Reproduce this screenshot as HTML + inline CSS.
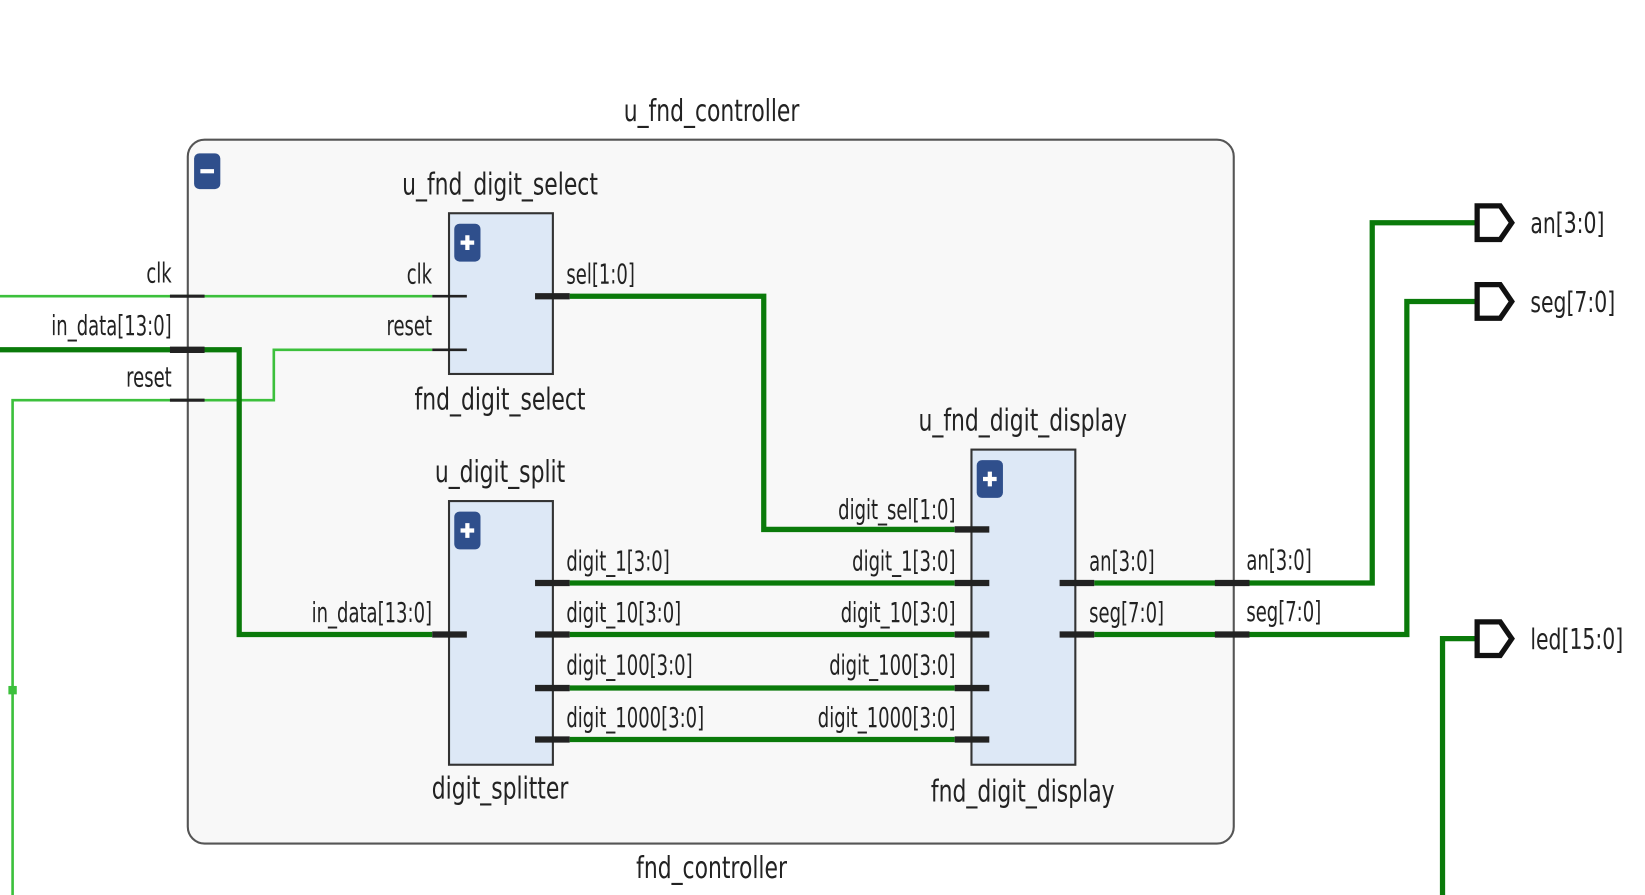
<!DOCTYPE html>
<html><head><style>
html,body{margin:0;padding:0;background:#fff;width:1645px;height:895px;overflow:hidden}
svg{display:block}
text{font-family:"DejaVu Sans","Liberation Sans",sans-serif;font-size:26px;fill:#222}
.t text{font-size:29px}
.p text{font-size:27px}
</style></head><body>
<svg width="1645" height="895" viewBox="0 0 1568 852" preserveAspectRatio="none">
<rect x="179" y="133" width="997" height="670" rx="16" fill="#f8f8f8" stroke="#555" stroke-width="2"/>
<rect x="185" y="146" width="25" height="34" rx="5" fill="#2f4f8c"/>
<rect x="191" y="161" width="13" height="4" fill="#fff"/>

<g stroke="#3cc03c" stroke-width="2.5" fill="none">
<polyline points="0,282 412,282"/>
<polyline points="12,852 12,381 261,381 261,333 412,333"/>
</g>
<rect x="8" y="653" width="8" height="8" fill="#3cc03c"/>

<g stroke="#0a7a0a" stroke-width="5" fill="none">
<polyline points="0,333 228,333 228,604 412,604"/>
<polyline points="543,282 728,282 728,504 910,504"/>
<line x1="543" y1="555" x2="910" y2="555"/>
<line x1="543" y1="604" x2="910" y2="604"/>
<line x1="543" y1="655" x2="910" y2="655"/>
<line x1="543" y1="704" x2="910" y2="704"/>
<polyline points="1043,555 1308,555 1308,212 1408,212"/>
<polyline points="1043,604 1341,604 1341,287 1408,287"/>
<polyline points="1375,852 1375,608 1408,608"/>
</g>

<g stroke="#222" fill="none">
<line x1="162" y1="282" x2="195" y2="282" stroke-width="3"/>
<line x1="162" y1="333" x2="195" y2="333" stroke-width="6"/>
<line x1="162" y1="381" x2="195" y2="381" stroke-width="3"/>
<line x1="1158" y1="555" x2="1191" y2="555" stroke-width="6"/>
<line x1="1158" y1="604" x2="1191" y2="604" stroke-width="6"/>
</g>

<rect x="428" y="203" width="99" height="153" fill="#dde8f6" stroke="#333" stroke-width="2"/>
<rect x="433" y="213" width="25" height="36" rx="5" fill="#2f4f8c"/>
<path d="M439 231h13M445.5 224v14" stroke="#fff" stroke-width="4"/>
<g stroke="#222">
<line x1="412" y1="282" x2="445" y2="282" stroke-width="2.5"/>
<line x1="412" y1="333" x2="445" y2="333" stroke-width="2.5"/>
<line x1="510" y1="282" x2="543" y2="282" stroke-width="6"/>
</g>

<rect x="428" y="477" width="99" height="251" fill="#dde8f6" stroke="#333" stroke-width="2"/>
<rect x="433" y="487" width="25" height="36" rx="5" fill="#2f4f8c"/>
<path d="M439 505h13M445.5 498v14" stroke="#fff" stroke-width="4"/>
<g stroke="#222" stroke-width="6">
<line x1="412" y1="604" x2="445" y2="604"/>
<line x1="510" y1="555" x2="543" y2="555"/>
<line x1="510" y1="604" x2="543" y2="604"/>
<line x1="510" y1="655" x2="543" y2="655"/>
<line x1="510" y1="704" x2="543" y2="704"/>
</g>

<rect x="926" y="428" width="99" height="300" fill="#dde8f6" stroke="#333" stroke-width="2"/>
<rect x="931" y="438" width="25" height="36" rx="5" fill="#2f4f8c"/>
<path d="M937 456h13M943.5 449v14" stroke="#fff" stroke-width="4"/>
<g stroke="#222" stroke-width="6">
<line x1="910" y1="504" x2="943" y2="504"/>
<line x1="910" y1="555" x2="943" y2="555"/>
<line x1="910" y1="604" x2="943" y2="604"/>
<line x1="910" y1="655" x2="943" y2="655"/>
<line x1="910" y1="704" x2="943" y2="704"/>
<line x1="1010" y1="555" x2="1043" y2="555"/>
<line x1="1010" y1="604" x2="1043" y2="604"/>
</g>

<g fill="#fff" stroke="#111" stroke-width="5" stroke-linejoin="miter">
<polygon points="1408,196 1430,196 1441,212 1430,228 1408,228"/>
<polygon points="1408,271 1430,271 1441,287 1430,303 1408,303"/>
<polygon points="1408,592 1430,592 1441,608 1430,624 1408,624"/>
</g>

<g transform="scale(0.66 1)">
<text x="248" y="269" text-anchor="end">clk</text>
<text x="248" y="319" text-anchor="end">in_data[13:0]</text>
<text x="248" y="368" text-anchor="end">reset</text>
<text x="1800" y="542">an[3:0]</text>
<text x="1800" y="591">seg[7:0]</text>
<text x="624" y="270" text-anchor="end">clk</text>
<text x="624" y="319" text-anchor="end">reset</text>
<text x="818" y="270">sel[1:0]</text>
<text x="624" y="592" text-anchor="end">in_data[13:0]</text>
<text x="818" y="543">digit_1[3:0]</text>
<text x="818" y="592">digit_10[3:0]</text>
<text x="818" y="642">digit_100[3:0]</text>
<text x="818" y="692">digit_1000[3:0]</text>
<text x="1380" y="494" text-anchor="end">digit_sel[1:0]</text>
<text x="1380" y="543" text-anchor="end">digit_1[3:0]</text>
<text x="1380" y="592" text-anchor="end">digit_10[3:0]</text>
<text x="1380" y="642" text-anchor="end">digit_100[3:0]</text>
<text x="1380" y="692" text-anchor="end">digit_1000[3:0]</text>
<text x="1573" y="543">an[3:0]</text>
<text x="1573" y="592">seg[7:0]</text>
</g>
<g class="t" transform="scale(0.72 1)">
<text x="942" y="115" text-anchor="middle">u_fnd_controller</text>
<text x="942" y="836" text-anchor="middle">fnd_controller</text>
<text x="662" y="185" text-anchor="middle">u_fnd_digit_select</text>
<text x="662" y="390" text-anchor="middle">fnd_digit_select</text>
<text x="662" y="459" text-anchor="middle">u_digit_split</text>
<text x="662" y="760" text-anchor="middle">digit_splitter</text>
<text x="1354" y="410" text-anchor="middle">u_fnd_digit_display</text>
<text x="1354" y="763" text-anchor="middle">fnd_digit_display</text>
</g>
<g class="p" transform="scale(0.72 1)">
<text x="2026" y="222">an[3:0]</text>
<text x="2026" y="297">seg[7:0]</text>
<text x="2026" y="618">led[15:0]</text>
</g>
</svg>
</body></html>
